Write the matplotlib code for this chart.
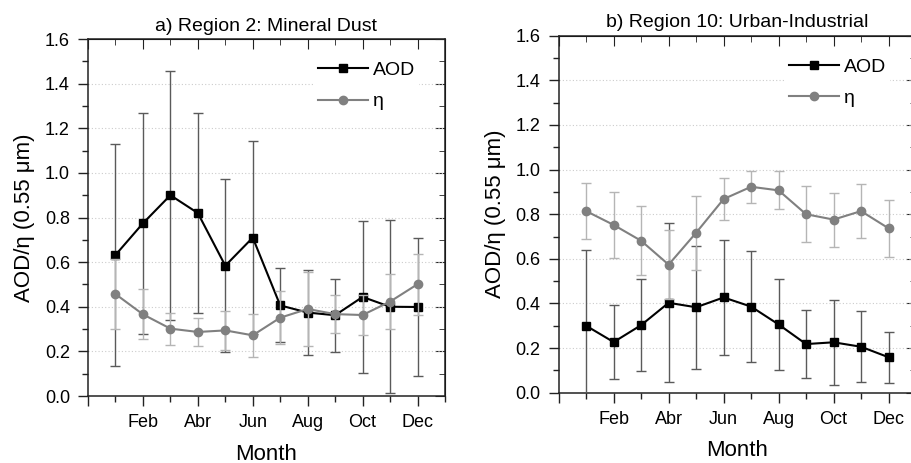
import matplotlib.pyplot as plt
from matplotlib.ticker import MultipleLocator, FixedLocator
from matplotlib.lines import Line2D
import numpy as np

plt.rcParams['font.family'] = ['Liberation Sans', 'DejaVu Sans']

months = np.arange(1, 13)
month_ticks = [2, 4, 6, 8, 10, 12]
month_labels = ['Feb', 'Abr', 'Jun', 'Aug', 'Oct', 'Dec']

# Region 2: Mineral Dust
aod_r2 = [0.632, 0.774, 0.900, 0.820, 0.584, 0.710, 0.406, 0.374, 0.362, 0.444, 0.400, 0.399]
aod_r2_err = [0.498, 0.496, 0.558, 0.450, 0.389, 0.433, 0.166, 0.190, 0.164, 0.339, 0.387, 0.308]
eta_r2 = [0.457, 0.366, 0.302, 0.287, 0.294, 0.272, 0.351, 0.390, 0.367, 0.363, 0.423, 0.501]
eta_r2_err = [0.155, 0.112, 0.072, 0.062, 0.088, 0.096, 0.120, 0.164, 0.085, 0.090, 0.122, 0.137]

# Region 10: Urban-Industrial
aod_r10 = [0.300, 0.227, 0.303, 0.403, 0.383, 0.427, 0.386, 0.306, 0.218, 0.226, 0.206, 0.159]
aod_r10_err = [0.340, 0.167, 0.205, 0.357, 0.275, 0.257, 0.247, 0.205, 0.151, 0.190, 0.160, 0.115]
eta_r10 = [0.814, 0.752, 0.681, 0.574, 0.717, 0.868, 0.923, 0.907, 0.800, 0.776, 0.814, 0.737]
eta_r10_err = [0.127, 0.146, 0.155, 0.155, 0.165, 0.096, 0.072, 0.085, 0.125, 0.121, 0.121, 0.128]

fig = plt.figure(figsize=(9.12, 4.63), dpi=100)
ax1 = fig.add_axes([0.0965, 0.1447, 0.3914, 0.771])
ax2 = fig.add_axes([0.6126, 0.1518, 0.3918, 0.771])


def draw_panel(ax, aod, aod_err, eta, eta_err, title):
    ax.errorbar(months, aod, yerr=aod_err, color='black', ecolor='#5a5a5a',
                elinewidth=1, capsize=3.3, capthick=1, lw=1.5, marker='s',
                markersize=5.5, zorder=3)
    ax.errorbar(months, eta, yerr=eta_err, color='#808080', ecolor='#b5b5b5',
                elinewidth=1, capsize=3.3, capthick=1, lw=1.5, marker='o',
                markersize=6, zorder=4)

    ax.set_xlim(0, 13)
    ax.set_ylim(0, 1.6)
    ax.xaxis.set_major_locator(FixedLocator([0] + month_ticks))
    ax.xaxis.set_minor_locator(FixedLocator([1, 3, 5, 7, 9, 11, 13]))
    ax.set_xticklabels([''] + month_labels)
    ax.yaxis.set_major_locator(MultipleLocator(0.2))
    ax.yaxis.set_minor_locator(MultipleLocator(0.1))
    ax.yaxis.set_major_formatter(plt.FuncFormatter(lambda v, p: f'{v:.1f}'))

    ax.tick_params(which='both', direction='out', top=False, right=False,
                   labelsize=13, width=1, color='#222222')
    ax.tick_params(which='major', length=7)
    ax.tick_params(which='minor', length=4)
    ax.tick_params(axis='x', pad=6)
    ax.tick_params(axis='y', pad=6)

    # inward ticks on top and right
    sec_x = ax.secondary_xaxis('top')
    sec_x.xaxis.set_major_locator(FixedLocator([0] + month_ticks))
    sec_x.xaxis.set_minor_locator(FixedLocator([1, 3, 5, 7, 9, 11, 13]))
    sec_x.tick_params(which='both', direction='in', labeltop=False, color='#222222')
    sec_x.tick_params(which='major', length=7)
    sec_x.tick_params(which='minor', length=4)
    sec_y = ax.secondary_yaxis('right')
    sec_y.yaxis.set_major_locator(MultipleLocator(0.2))
    sec_y.yaxis.set_minor_locator(MultipleLocator(0.1))
    sec_y.tick_params(which='both', direction='in', labelright=False, color='#222222')
    sec_y.tick_params(which='major', length=7)
    sec_y.tick_params(which='minor', length=4)

    for yv in [0.2, 0.4, 0.6, 0.8, 1.0, 1.2, 1.4]:
        ax.axhline(yv, color='#cccccc', lw=0.8, ls=(0, (1, 2)), zorder=1)

    for s in ax.spines.values():
        s.set_linewidth(1.1)
        s.set_color('#222222')

    ax.set_title(title, fontsize=14, pad=6)
    ax.set_xlabel('Month', fontsize=16, labelpad=9)
    ax.set_ylabel('AOD/η (0.55 μm)', fontsize=16, labelpad=7)

    handles = [
        Line2D([], [], color='black', lw=1.5, marker='s', markersize=5.5),
        Line2D([], [], color='#808080', lw=1.5, marker='o', markersize=6),
    ]
    leg = ax.legend(handles, ['AOD', 'η'], loc='upper right',
                    bbox_to_anchor=(0.955, 0.975), frameon=True,
                    fontsize=14, handlelength=2.6, handletextpad=0.25,
                    labelspacing=0.7, borderpad=0.2)
    leg.get_frame().set_edgecolor('none')
    leg.get_frame().set_facecolor('white')
    leg.get_frame().set_alpha(1)
    leg.set_zorder(5)


draw_panel(ax1, aod_r2, aod_r2_err, eta_r2, eta_r2_err, 'a) Region 2: Mineral Dust')
draw_panel(ax2, aod_r10, aod_r10_err, eta_r10, eta_r10_err, 'b) Region 10: Urban-Industrial')

fig.savefig('out.png', dpi=100)
